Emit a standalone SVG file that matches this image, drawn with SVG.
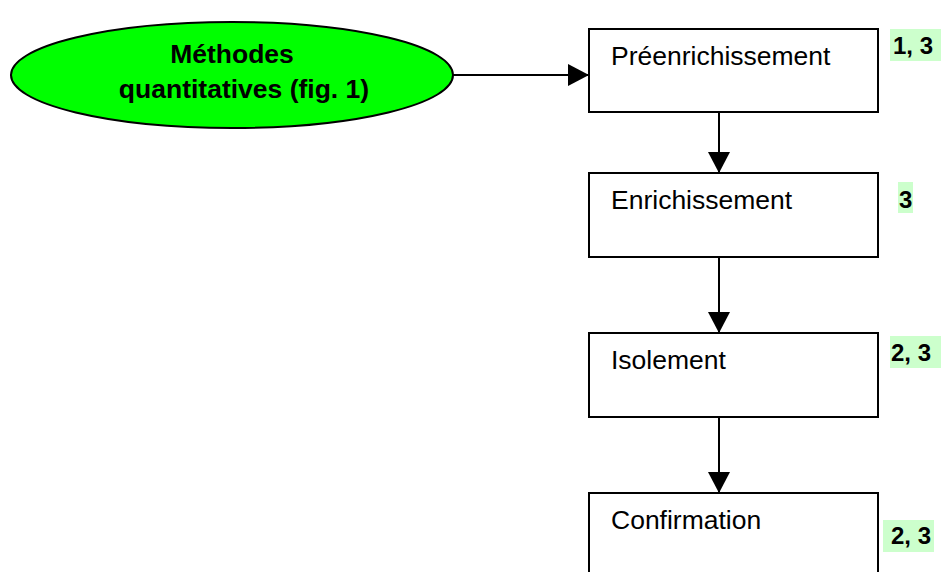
<svg xmlns="http://www.w3.org/2000/svg" width="941" height="572" viewBox="0 0 941 572">
<style>
.box{fill:#fff;stroke:#000;stroke-width:2}
.lbl{font-family:"Liberation Sans",Arial,sans-serif;font-size:26.5px;fill:#000}
.num{font-family:"Liberation Sans",Arial,sans-serif;font-size:24px;font-weight:bold;fill:#000}
.hl{fill:#ccffcc}
.conn{stroke:#000;stroke-width:2;fill:none;marker-end:url(#ah)}
</style>
<defs>
<marker id="ah" markerUnits="userSpaceOnUse" markerWidth="22" markerHeight="22" viewBox="0 0 22 22" refX="21" refY="11" orient="auto">
<path d="M0,0 L21,11 L0,22 Z" fill="#000"/>
</marker>
</defs>
<rect width="941" height="572" fill="#fff"/>
<g id="connectors">
<line class="conn" x1="453" y1="75" x2="589" y2="75"/>
<line class="conn" x1="719" y1="112" x2="719" y2="173"/>
<line class="conn" x1="719" y1="257" x2="719" y2="333"/>
<line class="conn" x1="719" y1="417" x2="719" y2="493"/>
</g>
<g id="methodes">
<ellipse cx="232" cy="75" rx="221" ry="53" fill="#00ff00" stroke="#000" stroke-width="2"/>
<text class="lbl" x="232" y="63" text-anchor="middle" font-weight="bold">Méthodes</text>
<text class="lbl" x="244" y="98" text-anchor="middle" font-weight="bold">quantitatives (fig. 1)</text>
</g>
<g id="preenrichissement">
<rect class="box" x="589" y="29" width="289" height="83"/>
<text class="lbl" x="611" y="65">Préenrichissement</text>
</g>
<g id="enrichissement">
<rect class="box" x="589" y="173" width="289" height="84"/>
<text class="lbl" x="611" y="209">Enrichissement</text>
</g>
<g id="isolement">
<rect class="box" x="589" y="333" width="289" height="84"/>
<text class="lbl" x="611" y="369">Isolement</text>
</g>
<g id="confirmation">
<rect class="box" x="589" y="493" width="289" height="90"/>
<text class="lbl" x="611" y="529">Confirmation</text>
</g>
<g id="ref1">
<rect class="hl" x="890" y="29" width="51" height="32"/>
<text class="num" x="893" y="54">1, 3</text>
</g>
<g id="ref2">
<rect class="hl" x="898" y="182" width="15" height="31"/>
<text class="num" x="899" y="208">3</text>
</g>
<g id="ref3">
<rect class="hl" x="890" y="336" width="51" height="32"/>
<text class="num" x="891" y="361">2, 3</text>
</g>
<g id="ref4">
<rect class="hl" x="883" y="520" width="51" height="32"/>
<text class="num" x="891" y="544">2, 3</text>
</g>
</svg>
